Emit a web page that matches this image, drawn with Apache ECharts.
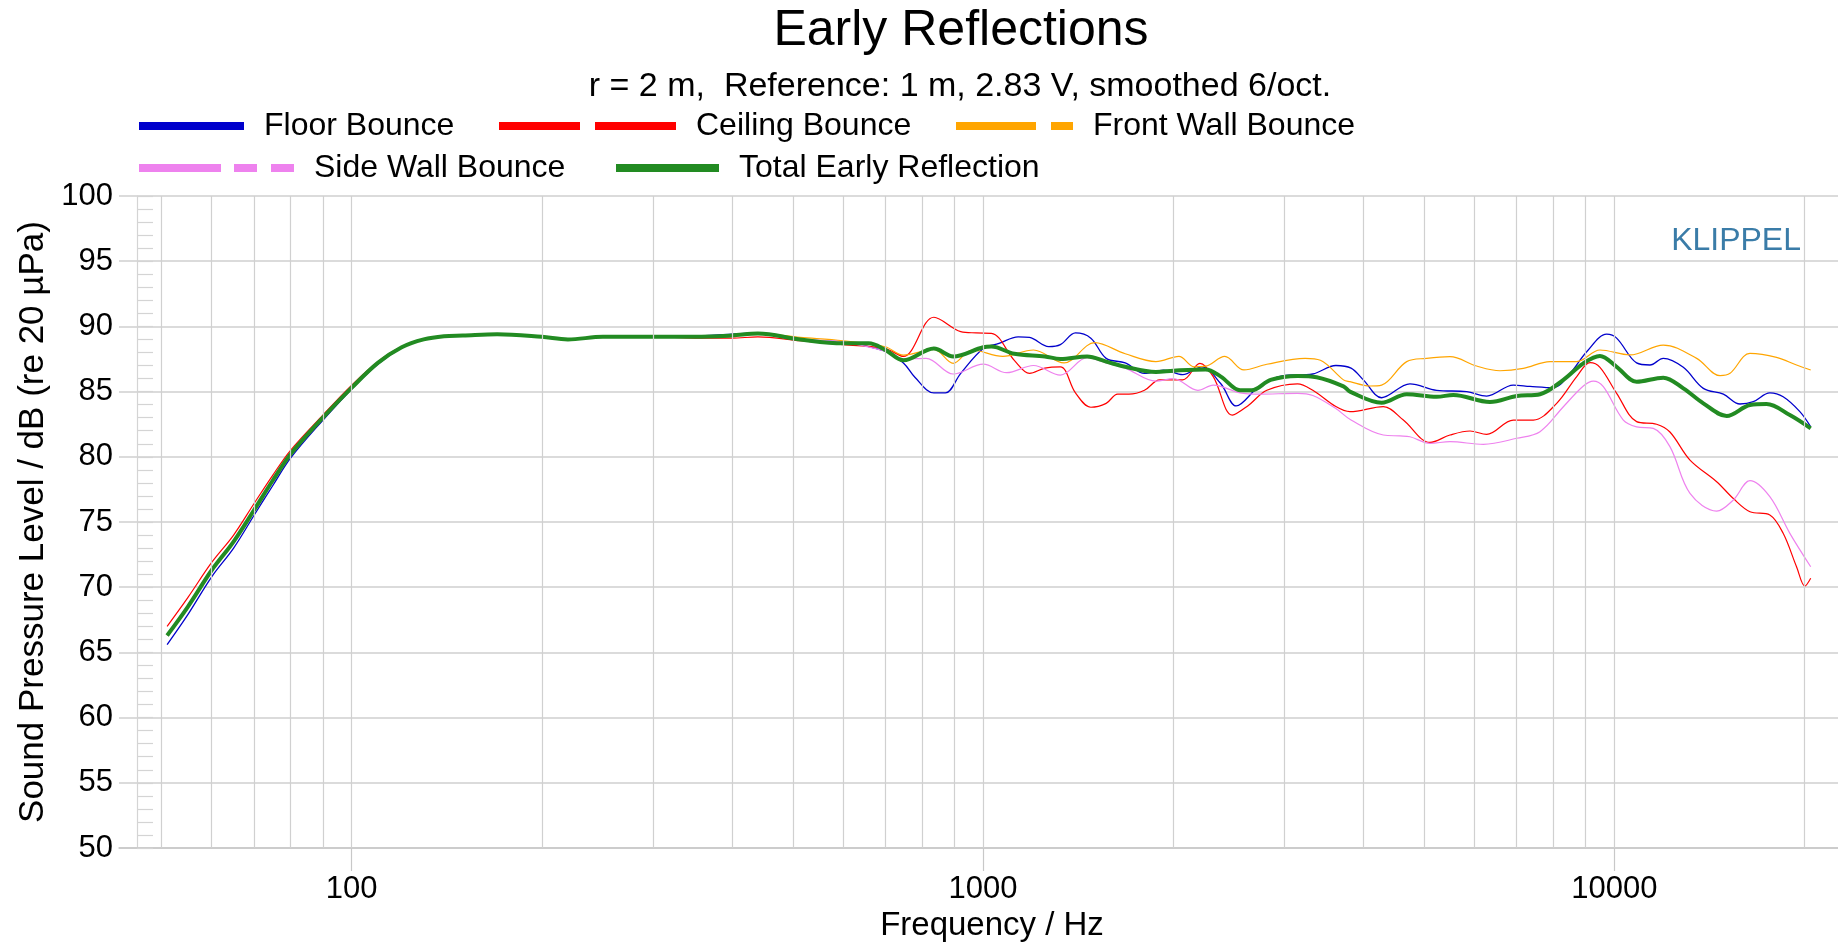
<!DOCTYPE html>
<html><head><meta charset="utf-8">
<script src="https://cdn.jsdelivr.net/npm/echarts@6/dist/echarts.min.js"></script>
<style>html,body{margin:0;padding:0;background:#fff}#c{width:1838px;height:948px}</style>
</head><body><div id="c"></div>
<script>
// ---- data (frequency in Hz, level in dB) ----
const lowFreq = [51,55,60,65,70,75,80,90,100,110,120,130,140,150,170,200,220,250,300,350,400,440];
const totalLowDb = [66.3,68.5,71.3,73.5,75.9,78.2,80.2,83.0,85.3,87.2,88.4,89.0,89.25,89.3,89.4,89.2,89.0,89.2,89.2,89.2,89.3,89.45];
const floorLowDb = [65.6,67.9,70.8,73.0,75.5,77.8,79.9,82.8,85.2,87.1,88.35,89.0,89.25,89.3,89.4,89.2,89.0,89.2,89.2,89.25,89.4,89.5];
const ceilLowDb  = [67.0,69.2,71.9,74.0,76.4,78.6,80.5,83.2,85.5,87.3,88.45,89.0,89.25,89.3,89.4,89.2,89.0,89.2,89.2,89.1,89.1,89.2];

const floorFreq = [513,600,700,748,780,836,872,922,1001,1060,1137,1185,1271,1326,1401,1482,1567,1680,1802,1932,2072,2221,2381,2518,2738,2978,3330,3622,3828,4004,4280,4746,5231,5837,6278,6919,7353,8007,8510,9043,9725,10086,10849,11390,11955,12863,13836,14886,15817,16604,17636,18515,19677,20471];
const floorDb = [89.0,88.8,88.1,87.2,86.1,84.9,84.9,86.4,88.3,88.7,89.2,89.15,88.45,88.6,89.5,89.1,87.55,87.2,86.4,86.65,86.3,86.9,85.6,83.9,85.4,86.2,86.35,87.0,86.8,85.9,84.53,85.6,85.1,85.0,84.66,85.5,85.4,85.3,86.4,88.06,89.4,89.1,87.2,87.04,87.55,86.86,85.25,84.8,84.05,84.23,84.9,84.6,83.46,82.3];

const ceilFreq = [513,600,700,748,836,922,975,1031,1121,1185,1253,1326,1401,1482,1567,1634,1703,1802,1905,2072,2206,2316,2483,2626,2816,3149,3330,3622,3813,4306,4633,5105,5492,5909,6278,6919,7443,8105,8720,9153,9491,10086,10849,11670,12250,13180,14527,15437,16403,17636,18515,19440,20042,20471];
const ceilDb = [88.9,88.6,88.3,87.7,90.7,89.6,89.5,89.47,87.4,86.4,86.8,86.9,84.9,83.8,84.1,84.8,84.8,85.1,85.9,85.9,87.17,86.15,83.2,83.9,85.1,85.6,85.1,83.85,83.46,83.85,82.82,81.1,81.67,81.98,81.72,82.82,82.82,84.1,86.15,87.22,86.86,84.87,82.7,82.5,81.9,79.75,78.09,76.8,75.79,75.54,74.13,71.57,70.09,70.68];

const frontFreq = [513,600,700,748,836,897,961,1075,1202,1344,1503,1680,1879,2043,2160,2252,2415,2590,2816,3238,3423,3724,3813,4102,4280,4690,5043,5492,6053,6591,7177,7910,8720,9491,10588,11955,13506,14706,15253,16403,18070,19440,20471];
const frontDb = [89.16,88.9,88.44,87.8,88.24,87.17,88.19,87.7,88.19,87.2,88.75,87.9,87.3,87.7,86.9,86.95,87.7,86.66,87.1,87.55,87.4,85.9,85.76,85.43,85.5,87.3,87.55,87.68,86.96,86.6,86.78,87.3,87.3,88.19,87.81,88.57,87.55,86.22,86.4,87.93,87.63,87.04,86.66];

const sideFreq = [513,600,700,748,813,897,1001,1090,1202,1326,1462,1567,1680,1879,2003,2190,2316,2554,2738,3149,3330,3622,3828,4306,4577,4746,5105,5492,6202,7004,7627,8305,8933,9265,9608,10335,10849,11529,12250,13180,14527,15437,16403,17636,18972,20471];
const sideDb = [89.0,88.8,88.1,87.5,87.55,86.35,87.1,86.45,87.0,86.27,87.6,87.2,86.8,85.8,86.0,85.1,85.5,84.9,84.8,84.87,84.7,83.7,82.82,81.67,81.6,81.54,81.03,81.16,80.96,81.42,81.93,83.84,85.43,85.81,85.38,82.82,82.3,82.18,80.78,77.2,75.84,76.69,78.17,76.94,74.13,71.57];

const totalFreq = [513,600,659,700,748,836,897,1001,1031,1121,1253,1326,1462,1567,1680,1879,2003,2252,2381,2554,2663,2855,3149,3377,3724,3813,4280,4690,5231,5559,6355,7004,7627,8305,8933,9491,10086,10849,11955,12863,13836,15069,16403,17426,18972,20471];
const totalDb = [89.0,88.7,88.7,88.2,87.4,88.3,87.7,88.4,88.45,87.9,87.7,87.5,87.7,87.3,86.9,86.5,86.6,86.7,86.15,85.1,85.1,85.9,86.2,86.1,85.4,85.0,84.15,84.8,84.6,84.74,84.2,84.66,84.8,85.9,87.17,87.73,86.9,85.76,86.07,85.25,84.1,83.13,83.97,84.05,83.2,82.18];

const xTickLabels = [100, 1000, 10000];
const gridFreqs = [50,60,70,80,90,100,200,300,400,500,600,700,800,900,1000,2000,3000,4000,5000,6000,7000,8000,9000,10000,20000];
const seriesNames = ['Floor Bounce','Ceiling Bounce','Front Wall Bounce','Side Wall Bounce','Total Early Reflection'];

// ---- chart ----
const FONT = '"Liberation Sans", Arial, sans-serif';
const zip = (f, d) => f.map((x, i) => [x, d[i]]);
const chart = echarts.init(document.getElementById('c'), null, {renderer: 'canvas'});

const mk = (name, data, color, width, z) => ({
  name, type: 'line', data, symbol: 'none', showSymbol: false, smooth: 0.35,
  lineStyle: {color, width}, itemStyle: {color}, z, silent: true,
  emphasis: {disabled: true}
});

const legendBase = {
  padding: 0, itemHeight: 32, selectedMode: false,
  itemStyle: {opacity: 0},
  textStyle: {fontSize: 32, color: '#000', fontFamily: FONT, padding: [0, 0, 0, 15]}
};

const option = {
  animation: false,
  backgroundColor: '#fff',
  grid: {left: 119, right: 0, top: 196, bottom: 100, containLabel: false, outerBoundsMode: 'none'},
  xAxis: {
    type: 'log', logBase: 10, min: 42.79, max: 22614,
    axisLine: {show: true, lineStyle: {color: '#c8c8c8', width: 1.5}},
    axisTick: {show: true, length: 23, lineStyle: {color: '#c8c8c8', width: 1.2}},
    axisLabel: {showMinLabel: false, showMaxLabel: false,
      formatter: v => { const r = Math.round(v); return xTickLabels.indexOf(r) >= 0 ? String(r) : ''; },
      fontSize: 31, color: '#000', fontFamily: FONT, margin: 26},
    splitLine: {show: false}, minorTick: {show: false},
    name: 'Frequency / Hz', nameLocation: 'middle', nameGap: 61,
    nameTextStyle: {fontSize: 33, color: '#000', fontFamily: FONT, padding: [0, 0, 0, 27]}
  },
  yAxis: [{
    type: 'value', min: 50, max: 100, interval: 5,
    axisLine: {show: false}, axisTick: {show: false},
    axisLabel: {fontSize: 31, color: '#000', fontFamily: FONT, margin: 6},
    splitLine: {show: true, lineStyle: {color: '#cfcfcf', width: 1.5}},
    name: 'Sound Pressure Level / dB (re 20 µPa)', nameLocation: 'middle', nameGap: 66,
    nameTextStyle: {fontSize: 35, color: '#000', fontFamily: FONT}
  }, {
    type: 'value', min: 50, max: 100, interval: 1, position: 'left', offset: -18,
    axisLine: {show: true, lineStyle: {color: '#d4d4d4', width: 1.2}},
    axisTick: {show: true, inside: true, length: 16, lineStyle: {color: '#d4d4d4', width: 1.2}},
    axisLabel: {show: false}, splitLine: {show: false}
  }],
  legend: [
    Object.assign({}, legendBase, {data: [seriesNames[0]], left: 135, top: 110, itemWidth: 105, lineStyle: {width: 8, type: 'solid'}}),
    Object.assign({}, legendBase, {data: [seriesNames[1]], left: 495, top: 110, itemWidth: 177, lineStyle: {width: 8, type: [81, 15]}}),
    Object.assign({}, legendBase, {data: [seriesNames[2]], left: 952, top: 110, itemWidth: 117, lineStyle: {width: 8, type: [80, 15]}}),
    Object.assign({}, legendBase, {data: [seriesNames[3]], left: 135, top: 152, itemWidth: 155, lineStyle: {width: 8, type: [82, 13, 23, 14]}}),
    Object.assign({}, legendBase, {data: [seriesNames[4]], left: 612, top: 152, itemWidth: 103, lineStyle: {width: 8, type: 'solid'}})
  ],
  graphic: [
    {type: 'text', x: 961, y: 31, silent: true,
      style: {text: 'Early Reflections', fontSize: 50, fontFamily: FONT, fill: '#000', align: 'center', verticalAlign: 'middle'}},
    {type: 'text', x: 960, y: 87, silent: true,
      style: {text: 'r = 2 m,  Reference: 1 m, 2.83 V, smoothed 6/oct.', fontSize: 34, fontFamily: FONT, fill: '#000', align: 'center', verticalAlign: 'middle'}},
    {type: 'text', x: 1801, y: 241, silent: true,
      style: {text: 'KLIPPEL', fontSize: 32, fontFamily: FONT, fill: '#3a7ca8', align: 'right', verticalAlign: 'middle'}}
  ],
  series: [
    {
      name: '_grid', type: 'line', data: [], silent: true, z: 0,
      markLine: {
        silent: true, symbol: 'none', animation: false,
        label: {show: false},
        lineStyle: {color: '#d0d0d0', width: 1.2, type: 'solid'},
        emphasis: {disabled: true},
        data: gridFreqs.map(f => ({xAxis: f}))
      }
    },
    mk(seriesNames[0], zip(lowFreq.concat(floorFreq), floorLowDb.concat(floorDb)), '#0000cc', 1.3, 3),
    mk(seriesNames[1], zip(lowFreq.concat(ceilFreq), ceilLowDb.concat(ceilDb)), '#ff0000', 1.2, 3),
    mk(seriesNames[2], zip(lowFreq.concat(frontFreq), totalLowDb.concat(frontDb)), '#ffa500', 1.2, 3),
    mk(seriesNames[3], zip(lowFreq.concat(sideFreq), totalLowDb.concat(sideDb)), '#ee82ee', 1.2, 3),
    mk(seriesNames[4], zip(lowFreq.concat(totalFreq), totalLowDb.concat(totalDb)), '#228b22', 4, 4)
  ]
};
chart.setOption(option);
</script>
</body></html>
